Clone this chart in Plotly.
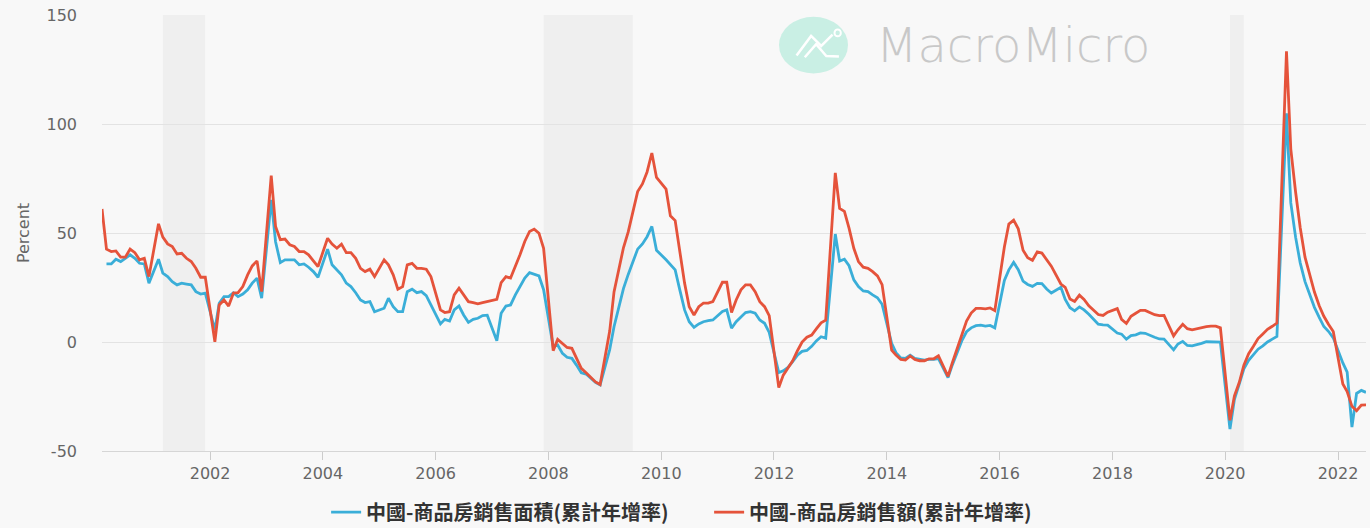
import pandas as pd
import plotly.graph_objects as go

# Monthly observations, Feb 2000 .. Jul 2022 (January is not published -> None)
months = pd.date_range("2000-02-01", "2022-07-01", freq="MS")

# 中國-商品房銷售面積(累計年增率), one row per year (Jan..Dec)
sales_area_yoy = (
    [None, 35.8, 35.8, 38.0, 36.9, 38.4, 40.0, 38.4, 36.1, 35.8, 27.0]            # 2000 (Feb-Dec)
    + [None, 38.0, 31.6, 30.0, 27.7, 26.2, 27.0, 26.6, 26.2, 23.1, 22.0, 22.4]    # 2001
    + [None, 5.5, 17.8, 20.8, 20.8, 22.6, 20.8, 22.0, 23.9, 27.0, 29.3, 20.1]     # 2002
    + [None, 65.2, 46.0, 36.4, 37.7, 37.7, 37.7, 35.4, 35.8, 34.3, 32.3, 29.7]    # 2003
    + [None, 42.6, 35.4, 33.1, 30.8, 27.0, 25.4, 22.6, 19.3, 18.1, 18.5, 13.9]    # 2004
    + [None, 15.5, 20.1, 16.2, 13.9, 13.9, 23.1, 24.2, 22.6, 23.1, 21.3, 17.0]    # 2005
    + [None, 8.3, 10.4, 9.6, 14.7, 16.5, 12.4, 9.0, 10.4, 10.9, 12.1, 12.3]       # 2006
    + [None, 0.6, 13.2, 16.5, 17.0, 21.6, 25.4, 29.3, 31.8, 31.2, 30.3, 24.0]     # 2007
    + [None, -2.1, -1.4, -5.2, -7.0, -7.5, -10.6, -14.1, -14.7, -16.7, -18.5, -19.7]  # 2008
    + [None, -3.5, 7.0, 16.0, 24.5, 31.0, 36.5, 42.6, 45.0, 48.3, 53.0, 42.1]     # 2009
    + [None, 37.7, 35.4, 33.1, 23.9, 14.7, 9.3, 6.7, 8.3, 9.3, 9.8, 10.1]         # 2010
    + [None, 14.0, 14.7, 6.3, 9.3, 11.5, 13.5, 13.9, 13.2, 10.1, 8.6, 4.4]        # 2011
    + [None, -14.0, -13.2, -11.6, -9.0, -6.0, -4.3, -3.9, -2.0, 0.5, 2.4, 1.8]    # 2012
    + [None, 49.5, 37.1, 38.0, 35.0, 28.5, 25.4, 23.4, 23.1, 21.6, 20.3, 17.3]    # 2013
    + [None, -0.6, -4.9, -7.3, -7.5, -6.0, -7.5, -8.0, -8.3, -8.0, -8.0, -7.6]    # 2014
    + [None, -16.3, -10.5, -5.0, 0.5, 4.7, 6.5, 7.5, 7.7, 7.3, 7.6, 6.5]          # 2015
    + [None, 28.2, 33.1, 36.5, 33.2, 27.9, 26.4, 25.5, 26.9, 26.8, 24.3, 22.5]    # 2016
    + [None, 25.1, 19.5, 15.7, 14.3, 16.1, 14.7, 12.7, 10.3, 8.2, 7.9, 7.7]       # 2017
    + [None, 4.1, 3.6, 1.3, 2.9, 3.3, 4.2, 4.0, 2.9, 2.2, 1.4, 1.3]               # 2018
    + [None, -3.6, -0.9, 0.3, -1.6, -1.8, -1.3, -0.6, 0.1, 0.1, 0.2, -0.1]        # 2019
    + [None, -39.9, -26.3, -19.3, -12.3, -8.4, -5.8, -3.3, -1.8, 0.0, 1.3, 2.6]   # 2020
    + [None, 104.9, 63.8, 48.1, 36.3, 27.7, 21.5, 15.9, 11.3, 7.1, 4.8, 1.9]      # 2021
    + [None, -9.6, -13.8, -39.0, -23.6, -22.2, -23.1]                             # 2022 (Jan-Jul)
)

# 中國-商品房銷售額(累計年增率)
sales_value_yoy = (
    [61.0, 42.6, 41.5, 41.8, 38.9, 38.9, 42.6, 41.0, 37.7, 38.4, 30.0]            # 2000 (Feb-Dec)
    + [None, 54.2, 48.1, 45.0, 43.8, 40.4, 40.7, 38.4, 36.9, 33.8, 29.7, 29.7]    # 2001
    + [None, 0.1, 17.0, 19.3, 16.5, 22.4, 22.6, 25.4, 30.8, 34.9, 37.2, 23.1]     # 2002
    + [None, 76.3, 53.0, 46.9, 47.2, 44.6, 43.8, 41.5, 41.5, 40.0, 37.2, 34.6]    # 2003
    + [None, 47.6, 44.9, 43.0, 44.9, 41.0, 41.0, 38.4, 33.8, 32.3, 33.4, 30.0]    # 2004
    + [None, 37.7, 35.4, 30.8, 24.2, 25.4, 35.4, 36.1, 33.8, 33.8, 33.4, 30.0]    # 2005
    + [None, 14.7, 13.5, 13.9, 21.6, 24.7, 21.6, 18.5, 18.1, 17.5, 18.1, 18.7]    # 2006
    + [None, 19.6, 27.2, 30.0, 29.3, 34.6, 40.0, 46.1, 50.7, 51.8, 49.9, 43.0]    # 2007
    + [None, -4.0, 1.2, -0.9, -2.5, -2.9, -7.5, -12.1, -14.1, -16.2, -18.3, -19.5]  # 2008
    + [None, 5.0, 23.0, 34.0, 43.2, 50.5, 59.0, 69.0, 72.5, 78.0, 86.7, 75.5]     # 2009
    + [None, 70.1, 57.9, 55.7, 42.3, 27.0, 16.2, 12.4, 16.2, 17.8, 17.8, 18.5]    # 2010
    + [None, 27.4, 27.4, 13.5, 19.3, 23.9, 26.2, 26.2, 23.1, 18.5, 16.2, 12.1]    # 2011
    + [None, -20.9, -15.2, -12.1, -8.6, -4.0, 0.0, 2.2, 3.2, 6.0, 8.8, 10.0]      # 2012
    + [None, 77.6, 61.3, 59.9, 52.2, 43.0, 36.9, 34.3, 33.8, 32.3, 30.3, 26.3]    # 2013
    + [None, -3.7, -6.0, -8.0, -8.3, -6.4, -8.0, -8.6, -8.6, -7.7, -7.7, -6.3]    # 2014
    + [None, -15.8, -9.5, -3.4, 2.7, 9.6, 13.3, 15.4, 15.4, 15.2, 15.6, 14.4]     # 2015
    + [None, 43.6, 54.1, 55.9, 51.9, 42.1, 38.7, 37.5, 41.3, 40.8, 37.5, 34.8]    # 2016
    + [None, 26.6, 25.1, 19.7, 18.6, 21.5, 19.5, 16.6, 14.6, 12.6, 12.2, 13.7]    # 2017
    + [None, 15.3, 10.4, 8.5, 11.8, 13.2, 14.5, 14.5, 13.3, 12.5, 12.1, 12.2]     # 2018
    + [None, 2.8, 5.6, 8.1, 6.1, 5.6, 6.2, 6.7, 7.1, 7.3, 7.3, 6.5]               # 2019
    + [None, -35.9, -24.7, -18.6, -10.6, -5.4, -2.1, 1.6, 3.7, 5.8, 7.2, 8.7]     # 2020
    + [None, 133.4, 88.5, 68.8, 52.4, 38.9, 30.7, 22.9, 16.6, 11.8, 8.0, 4.8]     # 2021
    + [None, -19.3, -22.7, -29.5, -31.5, -28.9, -28.8]                            # 2022 (Jan-Jul)
)

series_names = ["中國-商品房銷售面積(累計年增率)", "中國-商品房銷售額(累計年增率)"]
series_colors = ["#3aaed8", "#e5533b"]

# Recession bands
recessions = [("2001-03-01", "2001-11-30"), ("2007-12-01", "2009-06-30"), ("2020-02-01", "2020-04-30")]

year_ticks = pd.date_range("2002-01-01", "2022-01-01", freq="24MS")
y_ticks = [-50, 0, 50, 100, 150]
y_tick_labels = ["-50", "0", "50", "100", "150"]

fig = go.Figure()
for name, vals, col in zip(series_names, [sales_area_yoy, sales_value_yoy], series_colors):
    fig.add_trace(go.Scatter(
        x=months, y=vals, name=name, mode="lines", connectgaps=True,
        line=dict(color=col, width=2.8),
    ))

for start, end in recessions:
    fig.add_vrect(x0=start, x1=end, fillcolor="#efefef", line_width=0, layer="below")

# watermark logo
fig.add_shape(type="circle", xref="paper", yref="paper",
              x0=0.5356, x1=0.5902, y0=0.866, y1=0.996,
              fillcolor="#c9efe4", line_width=0, layer="below")
fig.add_shape(type="path", xref="paper", yref="paper",
              path="M 0.5495 0.907 L 0.5610 0.952 L 0.5690 0.929 L 0.5780 0.955",
              line=dict(color="white", width=2.5), layer="below")
fig.add_shape(type="path", xref="paper", yref="paper",
              path="M 0.5560 0.903 L 0.5650 0.933 L 0.5730 0.906 L 0.5830 0.905",
              line=dict(color="white", width=2.5), layer="below")
fig.add_shape(type="circle", xref="paper", yref="paper",
              x0=0.5795, x1=0.5845, y0=0.951, y1=0.967,
              fillcolor="#c9efe4", line=dict(color="white", width=2), layer="below")
fig.add_annotation(text="MacroMicro", xref="paper", yref="paper", x=0.7210, y=0.931,
                   xanchor="center", yanchor="middle", showarrow=False,
                   font=dict(family="DejaVu Sans", size=48, color="#c8c8c8", weight=300))

fig.update_layout(
    width=1370, height=528,
    margin=dict(l=102, r=4, t=15, b=77),
    paper_bgcolor="#f8f8f8", plot_bgcolor="#f8f8f8",
    showlegend=True,
    legend=dict(orientation="h", xref="container", yref="container",
                x=0.5176, xanchor="center", y=0.03, yanchor="middle",
                font=dict(family="Noto Sans CJK TC", size=20, color="#333333", weight="bold"),
                bgcolor="rgba(0,0,0,0)", itemwidth=30, entrywidth=338),
    xaxis=dict(
        type="date", range=["2000-02-01", "2022-07-01"],
        tickvals=list(year_ticks), ticktext=[d.strftime("%Y") for d in year_ticks],
        showgrid=False, ticks="outside", ticklen=8, tickcolor="#cccccc", tickwidth=1,
        showline=True, linecolor="#d6d6d6", linewidth=1,
        tickfont=dict(family="DejaVu Sans", size=16, color="#666666"),
        zeroline=False,
    ),
    yaxis=dict(
        range=[-50, 150], tickvals=y_ticks, ticktext=y_tick_labels,
        showgrid=True, gridcolor="#e3e3e3", gridwidth=1, zeroline=False,
        tickfont=dict(family="DejaVu Sans", size=16, color="#666666"),
        ticklabelstandoff=24,
        title=dict(text="Percent", font=dict(family="DejaVu Sans", size=16, color="#666666"), standoff=12),
    ),
)

fig.write_html("out.html", config={"displayModeBar": False},
               post_script="document.body.style.margin='0';")
